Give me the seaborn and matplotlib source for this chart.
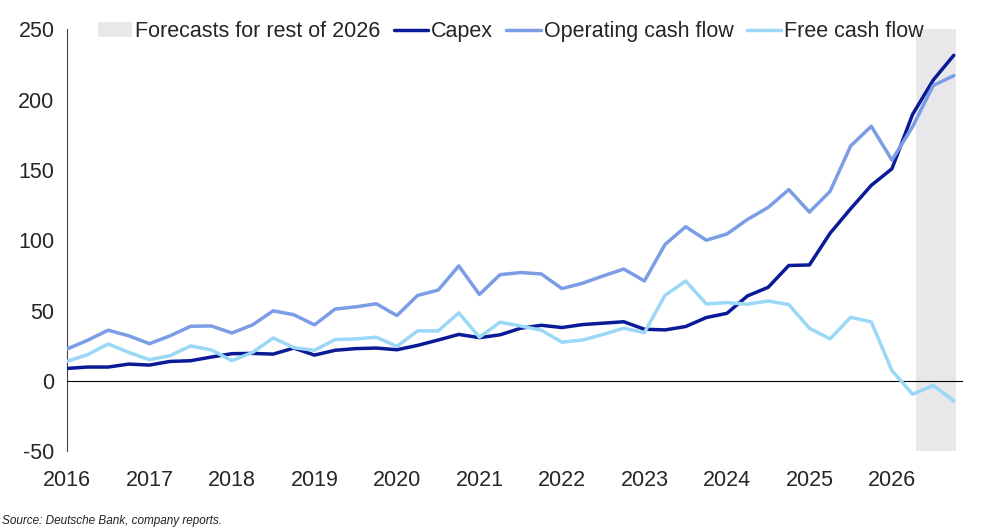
import numpy as np
import pandas as pd
import matplotlib
matplotlib.use("Agg")
import matplotlib.pyplot as plt
import matplotlib.transforms as mtransforms
from matplotlib.patches import Patch
import seaborn as sns

# --- data (quarterly, 2016Q1 .. 2026Q4) ---
quarters = np.arange(2016, 2027, 0.25)
capex = [8.8, 9.8, 9.8, 11.9, 11.2, 13.8, 14.3, 16.9, 19.3, 19.5, 19.0, 23.3,
         18.3, 21.7, 22.9, 23.3, 22.1, 25.2, 29.0, 33.0, 30.7, 32.7, 37.4, 39.5,
         37.9, 40.0, 41.0, 42.0, 36.7, 36.2, 38.6, 45.0, 48.0, 60.4, 66.5, 82.0,
         82.4, 104.9, 122.4, 139.0, 150.8, 189.4, 213.8, 231.5]
ocf = [22.6, 28.8, 36.0, 32.0, 26.4, 32.0, 38.8, 39.0, 34.0, 39.8, 49.8, 47.0,
       39.8, 51.0, 52.6, 54.8, 46.4, 60.7, 64.5, 81.7, 61.4, 75.5, 77.0, 76.0,
       65.6, 69.4, 74.6, 79.5, 71.0, 97.0, 109.6, 100.0, 104.4, 114.8, 123.3, 136.0,
       120.0, 134.7, 167.0, 181.0, 157.0, 180.6, 210.0, 217.0]
fcf = [13.8, 18.6, 26.2, 20.2, 15.0, 17.9, 24.8, 22.0, 14.3, 20.2, 30.5, 23.6,
       21.7, 29.3, 29.8, 31.0, 24.5, 35.5, 35.5, 48.3, 31.0, 41.7, 39.0, 36.0,
       27.5, 29.0, 33.0, 37.4, 34.3, 60.8, 71.0, 54.7, 55.6, 54.5, 56.8, 54.2,
       37.4, 29.8, 45.2, 41.9, 7.3, -9.5, -3.3, -14.2]
series_names = ["Capex", "Operating cash flow", "Free cash flow"]
series_colors = ["#0b1a96", "#7b9de6", "#9bd7f6"]
forecast_span = (2026.29, 2026.78)
year_ticks = list(range(2016, 2027))
y_ticks = [-50, 0, 50, 100, 150, 200, 250]

df = pd.DataFrame({"date": quarters, "Capex": capex,
                   "Operating cash flow": ocf, "Free cash flow": fcf})
long = df.melt(id_vars="date", var_name="series", value_name="value")

sns.set_style("white")
plt.rcParams["font.family"] = ["Liberation Sans", "DejaVu Sans"]
plt.rcParams["axes.unicode_minus"] = False

fig = plt.figure(figsize=(9.99, 5.32), dpi=100)
ax = fig.add_axes([0.067, 0.152, 0.896, 0.793])

ax.axvspan(*forecast_span, color="#e8e8ea", lw=0, zorder=0)
sns.lineplot(data=long, x="date", y="value", hue="series", hue_order=series_names,
             palette=series_colors, linewidth=2.5, ax=ax, legend=False, zorder=3)

ax.set_xlim(2016, 2026.85)
ax.set_ylim(-50, 250)
ax.set_yticks(y_ticks)
ax.set_xticks(year_ticks)
ax.set_xlabel("")
ax.set_ylabel("")

for s in ["top", "right"]:
    ax.spines[s].set_visible(False)
ax.spines["bottom"].set_position(("data", 0))
ax.spines["bottom"].set_color("black")
ax.spines["left"].set_color("#444444")
ax.tick_params(axis="x", direction="out", length=6, color="black", labelbottom=False)
ax.tick_params(axis="y", direction="out", length=5, color="#444444", labelsize=15.5, pad=4)

trans = mtransforms.blended_transform_factory(ax.transData, ax.transAxes)
for yr in year_ticks:
    ax.text(yr, -0.045, str(yr), transform=trans, ha="center", va="top", fontsize=15.5)

handles = [Patch(facecolor="#e8e8ea", edgecolor="none", label="Forecasts for rest of 2026")]
handles += [plt.Line2D([], [], color=c, lw=2.5, label=n) for n, c in zip(series_names, series_colors)]
ax.legend(handles=handles, ncol=4, loc="upper left", bbox_to_anchor=(0.02, 1.05),
          frameon=False, fontsize=15.5, handlelength=1.6, handletextpad=0.15,
          columnspacing=0.6, borderaxespad=0.2)

fig.text(0.002, 0.015, "Source: Deutsche Bank, company reports.", fontsize=8.5,
         style="italic", color="#222222")

fig.savefig("out.png", dpi=100)
